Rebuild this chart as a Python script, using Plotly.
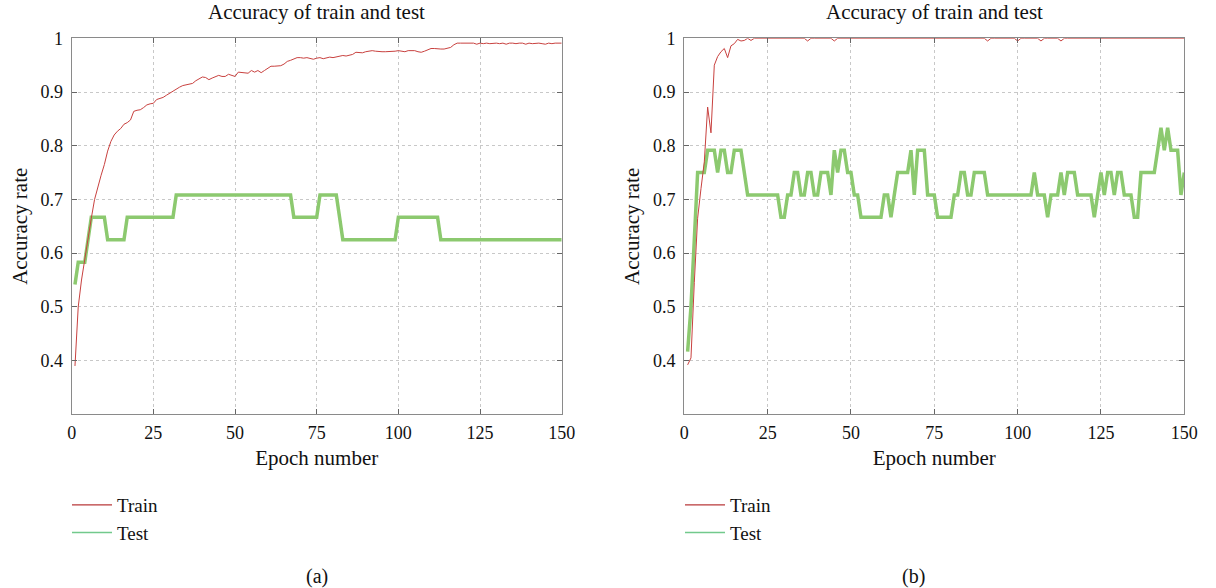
import plotly.graph_objects as go

epochs = list(range(1, 151))

train_a = [
    0.390, 0.500, 0.550, 0.590, 0.630, 0.665, 0.700, 0.725, 0.745, 0.765,
    0.790, 0.808, 0.820, 0.827, 0.832, 0.840, 0.843, 0.848, 0.864, 0.866,
    0.867, 0.871, 0.876, 0.878, 0.879, 0.886, 0.888, 0.890, 0.894, 0.898,
    0.902, 0.906, 0.909, 0.912, 0.913, 0.915, 0.916, 0.921, 0.925, 0.928,
    0.927, 0.923, 0.926, 0.929, 0.931, 0.929, 0.929, 0.933, 0.931, 0.929,
    0.937, 0.936, 0.936, 0.935, 0.940, 0.937, 0.940, 0.936, 0.940, 0.944,
    0.948, 0.948, 0.948, 0.949, 0.952, 0.957, 0.959, 0.962, 0.964, 0.964,
    0.963, 0.964, 0.962, 0.961, 0.963, 0.964, 0.962, 0.964, 0.965, 0.964,
    0.965, 0.966, 0.968, 0.967, 0.968, 0.970, 0.974, 0.973, 0.973, 0.975,
    0.976, 0.977, 0.976, 0.975, 0.975, 0.975, 0.975, 0.975, 0.976, 0.977,
    0.976, 0.975, 0.977, 0.977, 0.977, 0.975, 0.974, 0.976, 0.979, 0.981,
    0.981, 0.980, 0.980, 0.980, 0.981, 0.983, 0.988, 0.991, 0.991, 0.991,
    0.991, 0.990, 0.991, 0.989, 0.991, 0.990, 0.991, 0.990, 0.991, 0.991,
    0.990, 0.991, 0.989, 0.991, 0.991, 0.990, 0.991, 0.991, 0.989, 0.991,
    0.990, 0.991, 0.991, 0.990, 0.989, 0.991, 0.990, 0.991, 0.991, 0.991,
]

test_a = [
    0.5417, 0.5833, 0.5833, 0.5833, 0.6250, 0.6667, 0.6667, 0.6667, 0.6667, 0.6667,
    0.6250, 0.6250, 0.6250, 0.6250, 0.6250, 0.6250, 0.6667, 0.6667, 0.6667, 0.6667,
    0.6667, 0.6667, 0.6667, 0.6667, 0.6667, 0.6667, 0.6667, 0.6667, 0.6667, 0.6667,
    0.6667, 0.7083, 0.7083, 0.7083, 0.7083, 0.7083, 0.7083, 0.7083, 0.7083, 0.7083,
    0.7083, 0.7083, 0.7083, 0.7083, 0.7083, 0.7083, 0.7083, 0.7083, 0.7083, 0.7083,
    0.7083, 0.7083, 0.7083, 0.7083, 0.7083, 0.7083, 0.7083, 0.7083, 0.7083, 0.7083,
    0.7083, 0.7083, 0.7083, 0.7083, 0.7083, 0.7083, 0.7083, 0.6667, 0.6667, 0.6667,
    0.6667, 0.6667, 0.6667, 0.6667, 0.6667, 0.7083, 0.7083, 0.7083, 0.7083, 0.7083,
    0.7083, 0.6667, 0.6250, 0.6250, 0.6250, 0.6250, 0.6250, 0.6250, 0.6250, 0.6250,
    0.6250, 0.6250, 0.6250, 0.6250, 0.6250, 0.6250, 0.6250, 0.6250, 0.6250, 0.6667,
    0.6667, 0.6667, 0.6667, 0.6667, 0.6667, 0.6667, 0.6667, 0.6667, 0.6667, 0.6667,
    0.6667, 0.6667, 0.6250, 0.6250, 0.6250, 0.6250, 0.6250, 0.6250, 0.6250, 0.6250,
    0.6250, 0.6250, 0.6250, 0.6250, 0.6250, 0.6250, 0.6250, 0.6250, 0.6250, 0.6250,
    0.6250, 0.6250, 0.6250, 0.6250, 0.6250, 0.6250, 0.6250, 0.6250, 0.6250, 0.6250,
    0.6250, 0.6250, 0.6250, 0.6250, 0.6250, 0.6250, 0.6250, 0.6250, 0.6250, 0.6250,
]

train_b = [
    0.392, 0.405, 0.545, 0.665, 0.720, 0.770, 0.872, 0.824, 0.950, 0.966,
    0.975, 0.981, 0.964, 0.986, 0.990, 0.998, 0.995, 0.996, 1.000, 0.996,
    1.000, 1.000, 1.000, 1.000, 1.000, 1.000, 1.000, 1.000, 1.000, 1.000,
    1.000, 1.000, 1.000, 1.000, 1.000, 1.000, 0.995, 1.000, 1.000, 1.000,
    1.000, 1.000, 1.000, 1.000, 0.995, 1.000, 1.000, 1.000, 1.000, 1.000,
    1.000, 1.000, 1.000, 1.000, 1.000, 1.000, 1.000, 1.000, 1.000, 1.000,
    1.000, 1.000, 1.000, 1.000, 1.000, 1.000, 1.000, 1.000, 1.000, 1.000,
    1.000, 1.000, 1.000, 1.000, 1.000, 1.000, 1.000, 1.000, 1.000, 1.000,
    1.000, 1.000, 1.000, 1.000, 1.000, 1.000, 1.000, 1.000, 1.000, 1.000,
    0.995, 1.000, 1.000, 1.000, 1.000, 1.000, 1.000, 1.000, 1.000, 0.995,
    1.000, 1.000, 1.000, 1.000, 1.000, 1.000, 0.995, 1.000, 1.000, 1.000,
    1.000, 1.000, 0.995, 1.000, 1.000, 1.000, 1.000, 1.000, 1.000, 1.000,
    1.000, 1.000, 1.000, 1.000, 1.000, 1.000, 1.000, 1.000, 1.000, 1.000,
    1.000, 1.000, 1.000, 1.000, 1.000, 1.000, 1.000, 1.000, 1.000, 1.000,
    1.000, 1.000, 1.000, 1.000, 1.000, 1.000, 1.000, 1.000, 1.000, 1.000,
]

test_b = [
    0.4167, 0.5000, 0.6250, 0.7500, 0.7500, 0.7500, 0.7917, 0.7917, 0.7917, 0.7500,
    0.7917, 0.7917, 0.7500, 0.7500, 0.7917, 0.7917, 0.7917, 0.7500, 0.7083, 0.7083,
    0.7083, 0.7083, 0.7083, 0.7083, 0.7083, 0.7083, 0.7083, 0.7083, 0.6667, 0.6667,
    0.7083, 0.7083, 0.7500, 0.7500, 0.7083, 0.7083, 0.7500, 0.7500, 0.7083, 0.7083,
    0.7500, 0.7500, 0.7500, 0.7083, 0.7917, 0.7500, 0.7917, 0.7917, 0.7500, 0.7500,
    0.7083, 0.7083, 0.6667, 0.6667, 0.6667, 0.6667, 0.6667, 0.6667, 0.6667, 0.7083,
    0.7083, 0.6667, 0.7083, 0.7500, 0.7500, 0.7500, 0.7500, 0.7917, 0.7083, 0.7917,
    0.7917, 0.7917, 0.7083, 0.7083, 0.7083, 0.6667, 0.6667, 0.6667, 0.6667, 0.6667,
    0.7083, 0.7083, 0.7500, 0.7500, 0.7083, 0.7083, 0.7500, 0.7500, 0.7500, 0.7500,
    0.7083, 0.7083, 0.7083, 0.7083, 0.7083, 0.7083, 0.7083, 0.7083, 0.7083, 0.7083,
    0.7083, 0.7083, 0.7083, 0.7083, 0.7500, 0.7083, 0.7083, 0.7083, 0.6667, 0.7083,
    0.7083, 0.7083, 0.7500, 0.7083, 0.7500, 0.7500, 0.7500, 0.7083, 0.7083, 0.7083,
    0.7083, 0.7083, 0.6667, 0.7083, 0.7500, 0.7083, 0.7500, 0.7500, 0.7083, 0.7500,
    0.7500, 0.7083, 0.7083, 0.7083, 0.6667, 0.6667, 0.7500, 0.7500, 0.7500, 0.7500,
    0.7500, 0.7917, 0.8333, 0.7917, 0.8333, 0.7917, 0.7917, 0.7917, 0.7083, 0.7500,
]

x_ticks = [0, 25, 50, 75, 100, 125, 150]
y_ticks = [0.4, 0.5, 0.6, 0.7, 0.8, 0.9, 1.0]
y_tick_text = ["0.4", "0.5", "0.6", "0.7", "0.8", "0.9", "1"]
series_names = ["Train", "Test"]
chart_title = "Accuracy of train and test"
panel_labels = ["(a)", "(b)"]

FONT = "Liberation Serif"
RED = "#c8413f"
GREEN = "#8cc96f"
LEG_GREEN = "#72c98c"
W, H = 1216, 588


def px_x(v):
    return v / W


def px_y(v):
    return 1 - v / H


fig = go.Figure()

panels = [
    dict(xa="x", ya="y", train=train_a, test=test_a, legend="legend"),
    dict(xa="x2", ya="y2", train=train_b, test=test_b, legend="legend2"),
]
for p in panels:
    fig.add_trace(go.Scatter(x=epochs, y=p["test"], mode="lines", xaxis=p["xa"], yaxis=p["ya"],
                             line=dict(color=GREEN, width=3.5), showlegend=False, name=series_names[1]))
    fig.add_trace(go.Scatter(x=epochs, y=p["train"], mode="lines", xaxis=p["xa"], yaxis=p["ya"],
                             line=dict(color=RED, width=1), showlegend=False, name=series_names[0]))
    fig.add_trace(go.Scatter(x=[None], y=[None], mode="lines", xaxis=p["xa"], yaxis=p["ya"],
                             line=dict(color="#b8383a", width=1.3), name=series_names[0], legend=p["legend"]))
    fig.add_trace(go.Scatter(x=[None], y=[None], mode="lines", xaxis=p["xa"], yaxis=p["ya"],
                             line=dict(color=LEG_GREEN, width=1.5), name=series_names[1], legend=p["legend"]))

xdoms = [[px_x(71.7), px_x(561.7)], [px_x(684.3), px_x(1184.3)]]
ydom = [px_y(414.3), px_y(38.3)]

TF = dict(family=FONT, size=18, color="#111")
LF = dict(family=FONT, size=21, color="#111")

common_x = dict(range=[0, 150], tickvals=x_ticks, ticks="inside", ticklen=5, tickcolor="#666",
                showline=True, linecolor="#8a8a8a", linewidth=1.2, mirror="ticks",
                showgrid=True, gridcolor="#c8c8c8", griddash="dot", gridwidth=1, zeroline=False,
                tickfont=TF, ticklabelstandoff=2,
                title=dict(text="Epoch number", font=LF, standoff=8),
                automargin=False, fixedrange=True)
common_y = dict(range=[0.3, 1.0], tickvals=y_ticks, ticktext=y_tick_text, ticks="inside", ticklen=5,
                tickcolor="#666", showline=True, linecolor="#8a8a8a", linewidth=1.2, mirror="ticks",
                showgrid=True, gridcolor="#c8c8c8", griddash="dot", gridwidth=1, zeroline=False,
                tickfont=TF, ticklabelstandoff=4,
                title=dict(text="Accuracy rate", font=LF, standoff=7),
                automargin=False, fixedrange=True)

leg_common = dict(y=px_y(486), xanchor="left", yanchor="top", bgcolor="rgba(0,0,0,0)",
                  font=dict(family=FONT, size=19, color="#111"), tracegroupgap=0, itemwidth=40)

fig.update_layout(
    width=W, height=H,
    margin=dict(l=0, r=0, t=0, b=0),
    paper_bgcolor="white", plot_bgcolor="white",
    font=dict(family=FONT, size=18, color="#111"),
    xaxis=dict(domain=xdoms[0], anchor="y", **common_x),
    yaxis=dict(domain=ydom, anchor="x", **common_y),
    xaxis2=dict(domain=xdoms[1], anchor="y2", **common_x),
    yaxis2=dict(domain=ydom, anchor="x2", **common_y),
    legend=dict(x=px_x(67), **leg_common),
    legend2=dict(x=px_x(680), **leg_common),
)

for i, xd in enumerate(xdoms):
    cx = (xd[0] + xd[1]) / 2
    fig.add_annotation(text=chart_title, x=cx, y=px_y(12), xref="paper", yref="paper",
                       xanchor="center", yanchor="middle", showarrow=False, font=LF)
    fig.add_annotation(text=panel_labels[i], x=px_x(317 if i == 0 else 913), y=px_y(576),
                       xref="paper", yref="paper", xanchor="center", yanchor="middle", showarrow=False,
                       font=dict(family=FONT, size=20, color="#111"))

fig.write_html("out.html",
               config={"displayModeBar": False},
               post_script="document.body.style.margin='0px';"
                           "document.documentElement.style.overflow='hidden';")
